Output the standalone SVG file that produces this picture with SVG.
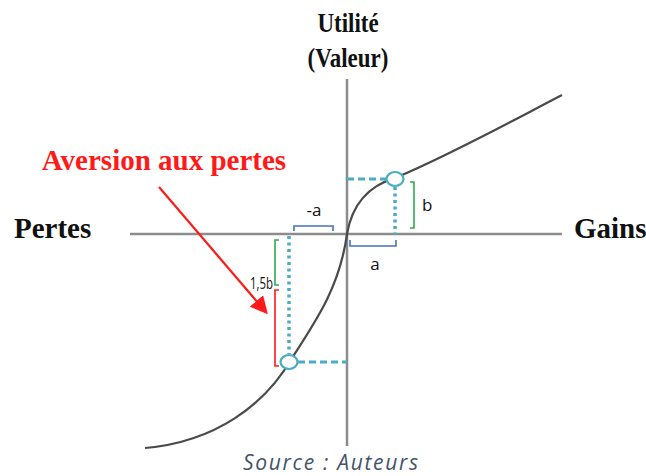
<svg xmlns="http://www.w3.org/2000/svg" width="646" height="476" viewBox="0 0 646 476">
<defs>
<style>
.axis{stroke:#8c8c8c;stroke-width:2.5;fill:none}
.curve{stroke:#4a4a4a;stroke-width:2.2;fill:none}
.dot{stroke:#4bacc6;stroke-width:3.5;stroke-dasharray:3 3.5;fill:none}
.dash{stroke:#4bacc6;stroke-width:3;stroke-dasharray:7 4;fill:none}
.pt{fill:#fff;stroke:#4bacc6;stroke-width:2.2}
.bl{stroke:#4472c4;stroke-width:1.6;fill:none}
.gr{stroke:#2eaa4f;stroke-width:1.6;fill:none}
.rd{stroke:#ff1a1a;stroke-width:1.6;fill:none}
.big{font-family:"Liberation Serif",serif;font-weight:bold;font-size:29px;fill:#111}
.title{font-family:"Liberation Serif",serif;font-weight:bold;font-size:23px;fill:#111}
.small{font-family:"Open Sans","Liberation Sans",sans-serif;font-size:17px;fill:#111}
</style>
<marker id="ah" markerWidth="8" markerHeight="8" refX="6" refY="4" orient="auto" markerUnits="strokeWidth">
<path d="M0,0 L8,4 L0,8 z" fill="#ff1a1a"/>
</marker>
</defs>
<g id="axes">
<line class="axis" x1="347" y1="79" x2="347" y2="446"/>
<line class="axis" x1="130" y1="234" x2="562" y2="234"/>
</g>
<g id="curve">
<path class="curve" d="M145 448 C215 442 265 405 292 358 C318 318 340 285 347 234 C352 205 368 186 395 178 C450 155 510 122 562 95"/>
</g>
<g id="connectors">
<line class="dash" x1="347" y1="179" x2="386" y2="179"/>
<line class="dot" x1="395" y1="187" x2="395" y2="234"/>
<line class="dot" x1="289" y1="236" x2="289" y2="354"/>
<line class="dash" x1="298" y1="362" x2="347" y2="362"/>
<line x1="159" y1="187" x2="265" y2="311" stroke="#ff1a1a" stroke-width="2.2" marker-end="url(#ah)"/>
</g>
<g id="brackets">
<path class="bl" d="M350 240 V246 H396 V240"/>
<path class="bl" d="M294 231 V226 H333 V231"/>
<path class="gr" d="M410 182 H414 V228 H410"/>
<path class="gr" d="M279 240 H275 V285 H279"/>
<path class="rd" d="M279 290 H275 V366 H279"/>
</g>
<g id="points">
<ellipse class="pt" cx="395" cy="179" rx="8.5" ry="7"/>
<ellipse class="pt" cx="289" cy="362" rx="8.5" ry="7"/>
</g>
<g id="labels">
<text class="title" transform="translate(348,32) scale(1,1.15)" text-anchor="middle">Utilité</text>
<text class="title" transform="translate(348,67) scale(1,1.15)" text-anchor="middle">(Valeur)</text>
<text class="big" x="164" y="170" text-anchor="middle" style="fill:#ff1a1a">Aversion aux pertes</text>
<text class="big" x="14" y="238">Pertes</text>
<text class="big" x="574" y="238">Gains</text>
<text class="small" x="314" y="216" text-anchor="middle">-a</text>
<text class="small" x="375" y="270" text-anchor="middle">a</text>
<text class="small" x="422" y="211">b</text>
<text class="small" x="250" y="289" font-size="11" textLength="23" lengthAdjust="spacingAndGlyphs">1,5b</text>
<text x="330.5" y="470" text-anchor="middle" font-family="'Open Sans','Liberation Sans',sans-serif" font-style="italic" font-size="21" fill="#44546a" textLength="175" lengthAdjust="spacing">Source : Auteurs</text>
</g>
</svg>
